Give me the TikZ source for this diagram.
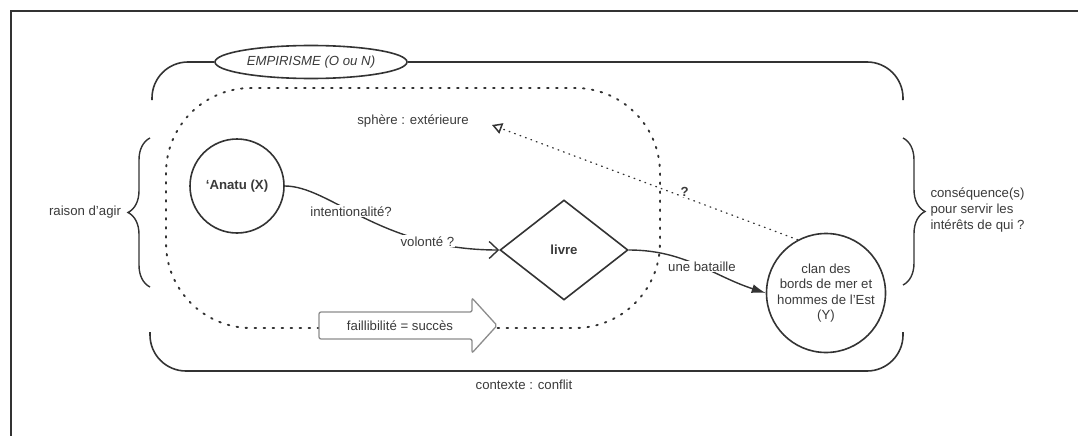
\documentclass[tikz,border=0pt]{standalone}
\usepackage{fontspec}
\setmainfont{Liberation Sans}
\usetikzlibrary{arrows.meta,shapes.geometric,decorations.pathreplacing,positioning}
\definecolor{trait}{HTML}{333333}
\definecolor{texte}{HTML}{3A3A3A}
\definecolor{gristrait}{HTML}{8C8C8C}
\newcommand{\taille}{\fontsize{13.2}{15.6}\selectfont}
\tikzset{
    %Define standard arrow tip
    >={Latex[length=14pt,width=9pt]},
    %Define style for round nodes
    rond/.style={
           circle,
           draw=trait, line width=1.6pt,
           minimum size=94pt,
           inner sep=0pt,
           align=center},
    losange/.style={
           diamond,
           draw=trait, line width=1.6pt,
           minimum width=128pt,
           minimum height=100pt,
           inner sep=0pt},
    etiq/.style={
           fill=white,
           inner sep=1pt},
    % Define line styles
    lien/.style={
           draw=trait,
           line width=1.4pt},
    pointille/.style={
           draw=trait,
           line width=1.9pt,
           dash pattern=on 1.6pt off 7.4pt,
           line cap=round},
    pointfin/.style={
           draw=trait,
           line width=1.3pt,
           dash pattern=on 0.8pt off 5pt,
           line cap=round},
    accolade/.style={
           decorate,
           decoration={brace, amplitude=22pt},
           draw=trait, line width=1.4pt},
    crochet/.style={
           draw=trait, line width=1.6pt,
           rounded corners=36pt}
}

\begin{document}
\begin{tikzpicture}[x=1pt,y=1pt,font=\taille,text=texte]
\useasboundingbox (0,0) rectangle (1078,-436);
\draw[trait, line width=1.6pt] (11,-436) -- (11,-11) -- (1078,-11);

% cadre empirisme / contexte
\node[ellipse, draw=trait, line width=1.6pt, minimum width=192pt, minimum height=33pt, inner sep=0pt, font=\taille\itshape] (empir) at (311,-62) {EMPIRISME (O ou N)};
\coordinate (hautG) at (152,-100);
\coordinate (hautD) at (903,-100);
\draw[crochet] (hautG) |- (empir.west);
\draw[crochet] (empir.east) -| (hautD);
\coordinate (basG) at (150,-332);
\coordinate (basD) at (903,-332);
\draw[crochet] (basG) -- (150,-371) -- (903,-371) -- (basD);
\node (contexte) at (524,-385) {contexte : conflit};

% accolades
\coordinate (accG1) at (150,-287);
\coordinate (accG2) at (150,-138);
\draw[accolade] (accG1) -- (accG2);
\node (raison) at (85,-212) {raison d'agir};
\coordinate (accD1) at (903,-138);
\coordinate (accD2) at (903,-285);
\draw[accolade] (accD1) -- (accD2);
\node[align=left, anchor=west] (consq) at (927,-210) {conséquence(s)\\pour servir les\\intérêts de qui ?};

% sphere exterieure
\draw[pointille, rounded corners=85pt] (166,-88) rectangle (660,-328);
\node (sphere) at (413,-121) {sphère : extérieure};
\coordinate (cible) at (492,-125);

\filldraw[fill=white, draw=gristrait, line width=1.3pt, rounded corners=2pt] (319,-312) -- (472,-312) -- (472,-298) -- (497,-325.5) -- (472,-353) -- (472,-339) -- (319,-339) -- cycle;
\node (faill) at (400,-325.5) {faillibilité = succès};

\node[rond, font=\taille\bfseries] (anatu) at (237,-186) {‘Anatu (X)};
\node[losange, font=\taille\bfseries] (livre) at (564,-250) {livre};
\node[rond, minimum size=119pt] (clan) at (826,-293) {clan des\\bords de mer et\\hommes de l'Est\\(Y)};

\draw (anatu.east) edge[lien, -{Straight Barb[length=9pt,width=17pt]}, out=0, in=180, out looseness=.52, in looseness=1.36] node[etiq, pos=.43] {intentionalité?} node[etiq, pos=.77] {volonté ?} (livre.west);
\draw (livre.east) edge[lien, ->, out=0, in=162] node[etiq, pos=.53] {une bataille} (clan.west);
\draw (clan.118) edge[pointfin, -{Triangle[open, length=10pt, width=11pt, line width=1.5pt]}] node[etiq, pos=.37, above, inner sep=0pt, font=\taille\bfseries] {?} (cible);

\end{tikzpicture}
\end{document}
